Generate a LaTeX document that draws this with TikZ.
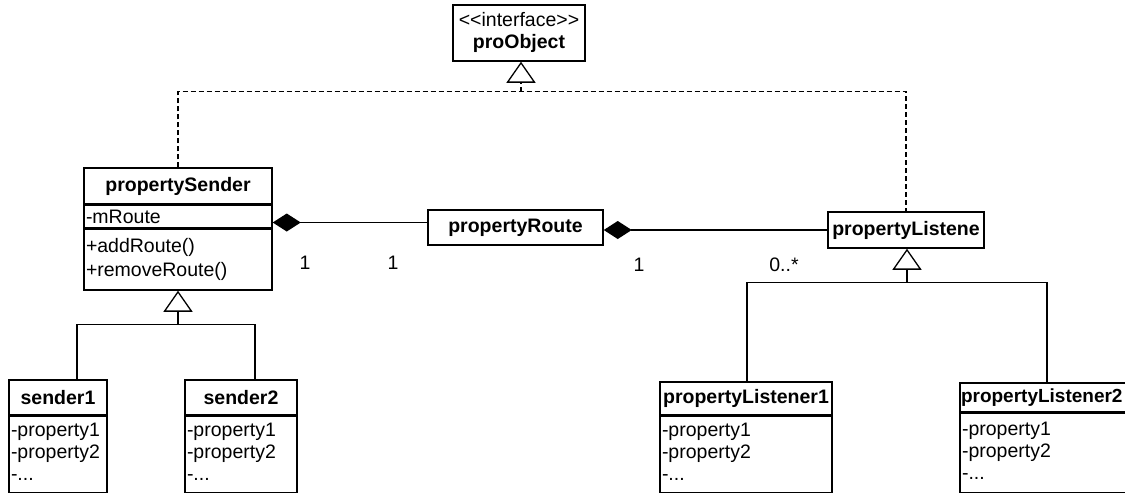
\documentclass[tikz,border=0pt]{standalone}
\usepackage{fontspec}
\setmainfont{Liberation Sans}
\usetikzlibrary{arrows.meta,calc}
\begin{document}
\begin{tikzpicture}[x=1pt,y=-1pt,
  box/.style={draw, line width=1.5pt, inner sep=0pt, font=\fontsize{19.5}{22}\selectfont},
  head/.style={box, font=\fontsize{19.5}{22}\selectfont\bfseries, align=center},
  attrs/.style={box, anchor=north, align=left, inner xsep=2pt, text width=#1},
  label/.style={inner sep=0pt, font=\fontsize{19.5}{22}\selectfont},
  line/.style={line width=1.3pt},
  real/.style={line width=1.2pt, dash pattern=on 5pt off 3pt},
  inherit/.style={line, -{Triangle[open, length=21pt, width=29pt]}},
  comp/.style={line, {Diamond[length=28pt, width=18pt]}-}
]
\fill[white] (0,0) rectangle (1125,493);
\useasboundingbox (0,0) rectangle (1125,493);
\clip (0,0) rectangle (1125,493);

% interface
\node[head, minimum width=132pt, minimum height=56pt] (po) at (519,33)
  {\mdseries\strut<\kern0pt<interface>\kern0pt>\\\strut\bfseries proObject};

% sender side
\node[head, minimum width=188pt, minimum height=36pt] (psHead) at (178,186) {propertySender};
\node[attrs=184pt, minimum height=22pt] (psAttr) at (psHead.south) {-mRoute};
\node[attrs=184pt, minimum height=61pt, font=\fontsize{19.5}{24}\selectfont] (psOps) at (psAttr.south)
  {\strut+addRoute()\\\strut+removeRoute()};

\node[head, minimum width=98pt, minimum height=35pt] (s1Head) at (58,397.5) {sender1};
\node[attrs=94pt, minimum height=76pt] (s1Attr) at (s1Head.south)
  {\strut-property1\\\strut-property2\\\strut-...};
\node[head, minimum width=112pt, minimum height=35pt] (s2Head) at (241,397.5) {sender2};
\node[attrs=108pt, minimum height=76pt] (s2Attr) at (s2Head.south)
  {\strut-property1\\\strut-property2\\\strut-...};

% route
\node[head, minimum width=175pt, minimum height=35pt] (pr) at (515.5,227.5) {propertyRoute};

% listener side
\node[head, minimum width=156pt, minimum height=36pt] (pl) at (906,230) {propertyListene};

\node[head, minimum width=172pt, minimum height=33pt] (l1Head) at (746,398.5) {propertyListener1};
\node[attrs=168pt, minimum height=76pt] (l1Attr) at (l1Head.south)
  {\strut-property1\\\strut-property2\\\strut-...};
% this class runs past the right edge of the page
\node[head, align=left, text width=170pt, inner xsep=1pt, minimum height=29pt,
      font=\fontsize{19}{22}\selectfont\bfseries] (l2Head) at (1046,397.5) {propertyListener2};
\node[attrs=168pt, minimum height=79pt] (l2Attr) at (l2Head.south)
  {\strut-property1\\\strut-property2\\\strut-...};

% realization of the interface
\coordinate (jn) at ($(po.south)+(2,30)$);
\draw[real] (psHead.north) |- (jn) -| (pl.north);
\draw[real, inherit] (jn) -- (po.south -| jn);

% compositions
\draw[comp] ([yshift=-6pt]psAttr.east) -- ([yshift=-6pt]psAttr.east -| pr.west);
\draw[comp] (pr.east |- pl.west) -- (pl.west);

% multiplicities
\node[label] (m1) at (305,263) {1};
\node[label] (m2) at (393,263) {1};
\node[label] (m3) at (639,265) {1};
\node[label] (m4) at (784,265) {0..*};

% generalization of the senders
\coordinate (gs) at ($(psOps.south)+(0,34)$);
\draw[line] ([xshift=19pt]s1Head.north) |- (gs) -| ([xshift=14pt]s2Head.north);
\draw[inherit] (gs) -- (psOps.south);

% generalization of the listeners
\coordinate (gl) at ($(pl.south)+(1,34)$);
\draw[line] ([xshift=1pt]l1Head.north) |- (gl) -| ([xshift=1pt]l2Head.north);
\draw[inherit] (gl) -- (pl.south -| gl);
\end{tikzpicture}
\end{document}
